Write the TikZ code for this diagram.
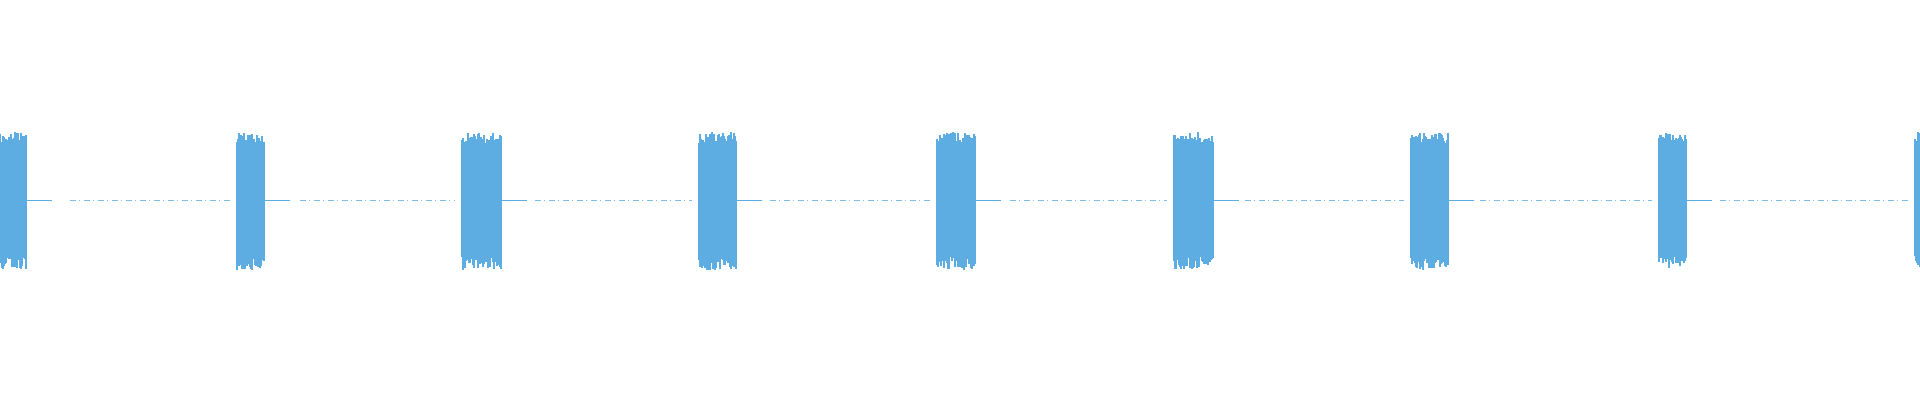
\documentclass[tikz,border=0pt]{standalone}
\usepackage{tikz}
\definecolor{wave}{RGB}{93,173,226}
\tikzset{
  wavebar/.style={draw=wave, line width=0.012cm},
  tail/.style={draw=wave, line width=0.006cm},
  quiet/.style={draw=wave!80, line width=0.005cm, dash pattern=on 0.06cm off 0.03cm on 0.01cm off 0.04cm}
}
\begin{document}
\begin{tikzpicture}[x=0.01cm,y=-0.01cm]
	\useasboundingbox (0,0) rectangle (1920,400);
	\pgfmathsetseed{7}
	% bursts: start/end in pixels
	\foreach \a/\b in {0/26,237/264,462/501,699/736,937/975,1174/1213,1411/1448,1659/1686,1915/1920}{
		\foreach \x in {\a,...,\b}{
			\pgfmathsetmacro\up{56+12*rnd}
			\pgfmathsetmacro\dn{56+14*rnd}
			\draw[wavebar] (\x,200-\up) -- (\x,200+\dn);
		}
		\coordinate (e) at (\b,200);
		\draw[tail] (e) -- ++(26,0);
	}
	% quiet stretches
	\foreach \a/\b in {70/230,300/455,535/692,770/930,1010/1167,1245/1404,1480/1652,1720/1908}{
		\draw[quiet] (\a,200) -- (\b,200);
	}
\end{tikzpicture}
\end{document}
